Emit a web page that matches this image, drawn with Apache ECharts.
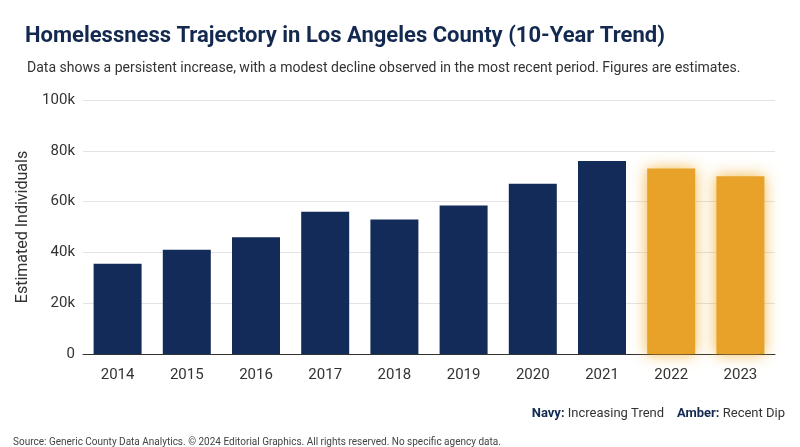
<!DOCTYPE html>
<html><head><meta charset="utf-8">
<script src="https://cdn.jsdelivr.net/npm/echarts@6/dist/echarts.min.js"></script>
<style>body{margin:0;background:#fff}#c{width:800px;height:447px}</style>
</head><body><div id="c"></div>
<script>
var years = ['2014','2015','2016','2017','2018','2019','2020','2021','2022','2023'];
var counts = [35500, 41000, 46000, 56000, 53000, 58500, 67000, 76000, 73000, 70000];
var recentYears = ['2022','2023'];

var navy = '#132b58', amber = '#e8a22a';
var chart = echarts.init(document.getElementById('c'));

var barData = counts.map(function (v, i) {
    var isRecent = recentYears.indexOf(years[i]) >= 0;
    return {
        value: v,
        itemStyle: isRecent
            ? { color: amber, shadowBlur: 14, shadowColor: 'rgba(240,170,40,0.85)' }
            : { color: navy }
    };
});

chart.setOption({
    textStyle: { fontFamily: 'Roboto' },
    title: [{
        text: 'Homelessness Trajectory in Los Angeles County (10-Year Trend)',
        left: 20, top: 20,
        textStyle: { fontSize: 22, fontWeight: 'bold', color: '#13294f' }
    }, {
        text: 'Data shows a persistent increase, with a modest decline observed in the most recent period. Figures are estimates.',
        left: 22, top: 56,
        textStyle: { fontSize: 14, fontWeight: 'normal', color: '#333' }
    }, {
        text: '{b|Navy:} Increasing Trend    {b|Amber:} Recent Dip',
        right: 10, top: 402,
        textStyle: { fontSize: 13, fontWeight: 'normal', color: '#333',
            rich: { b: { fontSize: 13, fontWeight: 'bold', color: '#13294f' } } }
    }, {
        text: 'Source: Generic County Data Analytics. © 2024 Editorial Graphics. All rights reserved. No specific agency data.',
        left: 8, top: 432,
        textStyle: { fontSize: 10, fontWeight: 'normal', color: '#444' }
    }],
    grid: { left: 83, right: 25, top: 100, bottom: 93 },
    xAxis: {
        type: 'category', data: years,
        axisTick: { show: false },
        axisLine: { lineStyle: { color: '#333' } },
        axisLabel: { fontSize: 15, color: '#333', margin: 14 }
    },
    yAxis: {
        type: 'value', min: 0, max: 100000, interval: 20000,
        name: 'Estimated Individuals', nameLocation: 'middle', nameGap: 50,
        nameTextStyle: { fontSize: 16, color: '#333' },
        axisLabel: { fontSize: 15, color: '#333',
            formatter: function (v) { return v === 0 ? '0' : (v / 1000) + 'k'; } },
        splitLine: { lineStyle: { color: '#e3e3e3' } }
    },
    series: [{ type: 'bar', data: barData, barWidth: 48, animation: false }]
});
</script>
</body></html>
